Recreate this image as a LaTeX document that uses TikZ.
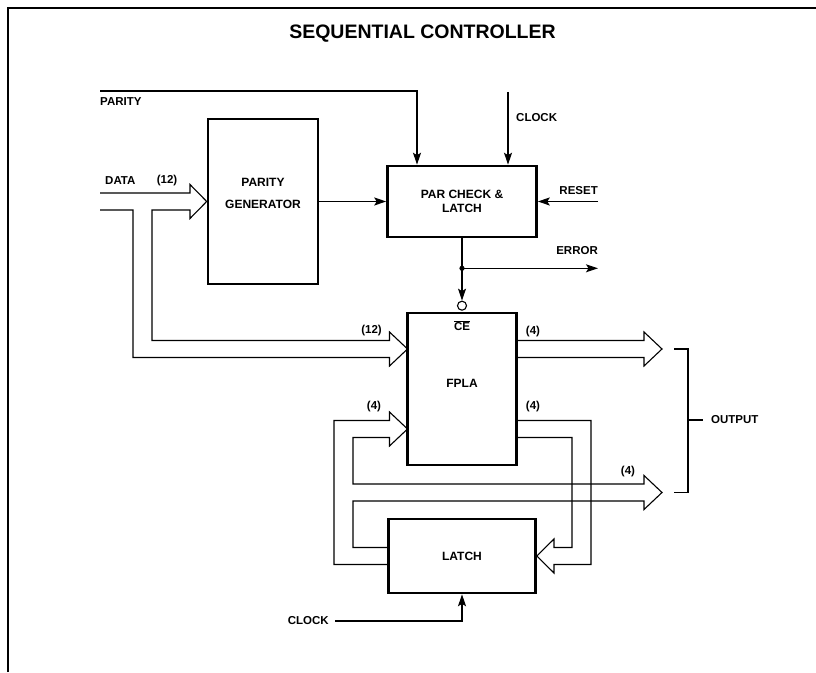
\documentclass[tikz,border=0pt]{standalone}
\usepackage{fontspec}
\setmainfont{Liberation Sans}
\usepackage{tikz}
\usetikzlibrary{positioning, arrows.meta, calc}

\begin{document}
\begin{tikzpicture}[
    x=1pt, y=1pt,
    block/.style={rectangle, draw, line width=2.6pt, align=center, font=\bfseries\fontsize{12}{14}\selectfont},
    sig/.style={-{Stealth[length=12pt, width=8pt, inset=2.5pt]}, line width=1.1pt},
    bus/.style={line width=1.1pt, line join=miter},
    lbl/.style={font=\bfseries\fontsize{11.5}{13}\selectfont, inner sep=1pt},
    bubble/.style={circle, draw, line width=1.1pt, minimum size=9pt, inner sep=0pt, fill=white}
  ]
  \useasboundingbox (0,0) rectangle (816,672);
  \draw[line width=1.4pt] (8,0) -- (8,664) -- (816,664);
  \node[font=\bfseries\fontsize{19.5}{22}\selectfont] (title) at (422.5,638.5) {SEQUENTIAL CONTROLLER};

  % blocks
  \node[block, minimum width=110, minimum height=165, text depth=16.5pt,
        font=\bfseries\fontsize{12}{21.5}\selectfont] (pg) at (263,470.5) {PARITY\\GENERATOR};
  \node[block, minimum width=149, minimum height=71] (pcl) at (462,470.5) {PAR CHECK \&\\LATCH};
  \node[block, minimum width=109, minimum height=152, text depth=12pt] (fpla) at (462,283) {FPLA};
  \node[block, minimum width=147, minimum height=74] (latch) at (462,116) {LATCH};
  \node[bubble] (cebar) at ([yshift=6]fpla.north) {};
  \node[lbl] (celbl) at (462,346) {$\overline{\hbox{CE}}$};

  % labels
  \node[lbl, anchor=west] (parity) at (99,570) {PARITY};
  \node[lbl, anchor=west] (data) at (104,491) {DATA};
  \node[lbl, anchor=west] (clk1) at (515,554) {CLOCK};
  \node[lbl, anchor=east] (reset) at (599,481) {RESET};
  \node[lbl, anchor=east] (error) at (599,421) {ERROR};
  \node[lbl, anchor=east] (clk2) at (330,51) {CLOCK};
  \node[lbl, anchor=west] (output) at (710,252) {OUTPUT};
  \foreach \xx/\yy/\w [count=\i] in {167/491/12, 371.5/341/12, 533/340/4, 533/265/4, 374/265/4, 628/200/4}
    \node[lbl] (width\i) at (\xx,\yy) {(\w)};

  % single lines
  \coordinate (parin) at (100,581);
  \coordinate (clkin) at (508,580);
  \coordinate (rstin) at (598,470.5);
  \coordinate (tap) at ([yshift=-30]pcl.south);
  \coordinate (errout) at ([xshift=136]tap);
  \draw[sig] (parin) -| ([xshift=-45]pcl.north);
  \draw[sig] (clkin) -- (clkin |- pcl.north);
  \draw[sig] (rstin) -- (pcl.east);
  \draw[sig] (pg.east) -- (pcl.west);
  \draw[sig] (pcl.south) -- (cebar.north);
  \fill (tap) circle (2.6);
  \draw[sig] (tap) -- (errout);
  \draw[sig] ([xshift=5]clk2.east) -| (latch.south);

  % buses
  \coordinate (fin1) at (407.5,323);
  \coordinate (fin2) at (407.5,243);
  \coordinate (fout1) at (662,323);
  \coordinate (fout2) at (662,179.5);
  \draw[bus] (100,479) -- (190,479) -- (190,487.5) -- (pg.west) -- (190,453.5) -- (190,462)
    -- (152,462) -- (152,331.5) -- (389.5,331.5) -- (389.5,340) -- (fin1) -- (389.5,306)
    -- (389.5,314.5) -- (133,314.5) -- (133,462) -- (100,462);
  \draw[bus] (516.5,331.5) -- (644,331.5) -- (644,340) -- (fout1) -- (644,306)
    -- (644,314.5) -- (516.5,314.5);
  \draw[bus] (516.5,251.5) -- (591,251.5) -- (591,107.5) -- (554,107.5) -- (554,99)
    -- (latch.east) -- (554,133) -- (554,124.5) -- (572,124.5) -- (572,234.5) -- (516.5,234.5);
  \draw[bus] (388.5,107.5) -- (334,107.5) -- (334,251.5) -- (389.5,251.5) -- (389.5,260) -- (fin2)
    -- (389.5,226) -- (389.5,234.5) -- (353,234.5) -- (353,188) -- (644,188) -- (644,196.5)
    -- (fout2) -- (644,162.5) -- (644,171) -- (353,171) -- (353,124.5) -- (388.5,124.5);

  % output bracket
  \draw[bus] ([xshift=12]fout1) -| ([xshift=26]fout2) -- ([xshift=12]fout2);
  \draw[bus] (688,252) -- ([xshift=-7]output.west);
\end{tikzpicture}
\end{document}
